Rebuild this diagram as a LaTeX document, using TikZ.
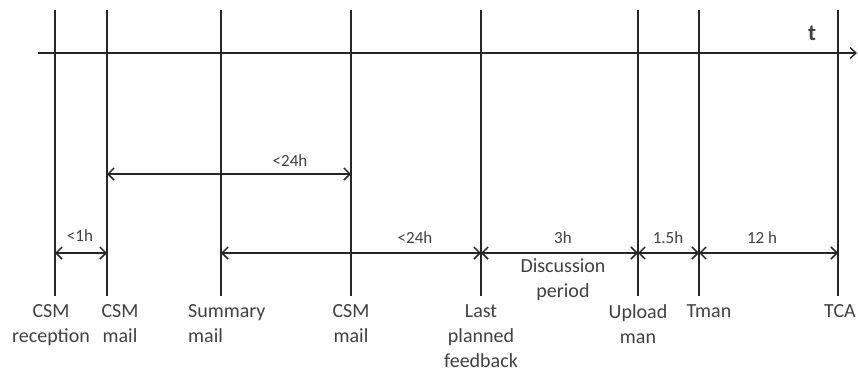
\documentclass[tikz,border=0pt]{standalone}
\usepackage{fontspec}
\setmainfont{Carlito}
\usetikzlibrary{arrows.meta}
\begin{document}
\begin{tikzpicture}[x=1pt,y=-1pt,
  tick/.style={line width=1.8pt,black!85},
  axis/.style={line width=1.8pt,black!85,-{Straight Barb[length=6pt,width=11pt,line width=1.4pt]}},
  span/.style={line width=1.6pt,black!85,{Straight Barb[length=6pt,width=12pt,line width=1.5pt]}-{Straight Barb[length=6pt,width=12pt,line width=1.5pt]}},
  small/.style={font=\fontsize{17}{19}\selectfont,text=black!75,inner sep=0pt},
  lbl/.style={font=\fontsize{20}{25}\selectfont,text=black!75,inner sep=0pt,align=center},
]
\useasboundingbox (0,0) rectangle (858,376);
% time axis
\coordinate (ax0) at (38,53);
\coordinate (ax1) at (857,53);
\draw[axis] (ax0) -- (ax1);
\node[lbl,font=\fontsize{23}{25}\selectfont\bfseries] (t) at (812,33) {t};
% vertical markers
\coordinate (atop) at (55,10);  \coordinate (abot) at (55,296);
\coordinate (btop) at (107,10); \coordinate (bbot) at (107,296);
\coordinate (ctop) at (221,10); \coordinate (cbot) at (221,296);
\coordinate (dtop) at (351,10); \coordinate (dbot) at (351,296);
\coordinate (etop) at (481,10); \coordinate (ebot) at (481,296);
\coordinate (ftop) at (638,10); \coordinate (fbot) at (638,296);
\coordinate (gtop) at (699,10); \coordinate (gbot) at (699,296);
\coordinate (htop) at (838,10); \coordinate (hbot) at (838,296);
\draw[tick] (atop) -- (abot);
\draw[tick] (btop) -- (bbot);
\draw[tick] (ctop) -- (cbot);
\draw[tick] (dtop) -- (dbot);
\draw[tick] (etop) -- (ebot);
\draw[tick] (ftop) -- (fbot);
\draw[tick] (gtop) -- (gbot);
\draw[tick] (htop) -- (hbot);
% span end points
\coordinate (bup) at (107,174); \coordinate (dup) at (351,174);
\coordinate (alo) at (55,253);  \coordinate (blo) at (107,253);
\coordinate (clo) at (221,253); \coordinate (elo) at (481,253);
\coordinate (flo) at (638,253); \coordinate (glo) at (699,253);
\coordinate (hlo) at (838,253);
% upper span
\draw[span] (bup) -- (dup);
\node[small] (s1) at (290,161) {<24h};
% lower spans
\draw[span] (alo) -- (blo);
\node[small] (s2) at (80,236) {<1h};
\draw[span] (clo) -- (elo);
\node[small] (s3) at (415,238) {<24h};
\draw[span] (elo) -- (flo);
\node[small] (s4) at (563,238) {3h};
\draw[span] (flo) -- (glo);
\node[small] (s5) at (668,238) {1.5h};
\draw[span] (glo) -- (hlo);
\node[small] (s6) at (762,238) {12 h};
\node[lbl,anchor=north] (disc) at (563,259) {Discussion\\period};
% bottom labels
\node[lbl,anchor=north] (l1) at (51,304) {CSM\\reception};
\node[lbl,anchor=north] (l2) at (120,304) {CSM\\mail};
\node[lbl,anchor=north west,align=left] (l3) at (188,304) {Summary\\mail};
\node[lbl,anchor=north] (l4) at (351,304) {CSM\\mail};
\node[lbl,anchor=north] (l5) at (481,304) {Last\\planned\\feedback};
\node[lbl,anchor=north] (l6) at (638,304) {Upload\\man};
\node[lbl,anchor=north] (l7) at (709,304) {Tman};
\node[lbl,anchor=north] (l8) at (840,304) {TCA};
\end{tikzpicture}
\end{document}
